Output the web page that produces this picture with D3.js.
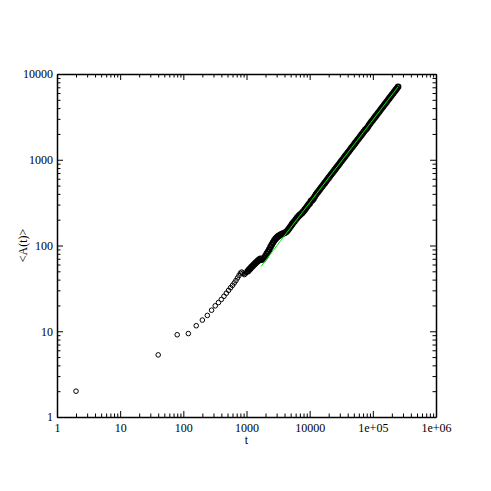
<!DOCTYPE html>
<html>
<head>
<meta charset="utf-8">
<script src="https://cdn.jsdelivr.net/npm/d3@7"></script>
<style>
    body { margin: 0; background: #fff; }
</style>
</head>
<body>
<div id="chart"></div>
<script>
// early samples, every 40 steps (plus t = 2)
const earlyT = [2, 40, 80, 120, 160, 200, 240, 280, 320, 360, 400, 440, 480, 520, 560,
    600, 640, 680, 720, 760, 800, 840, 880, 920, 960, 1000];
const earlyA = [2.0, 5.3, 9.1, 9.4, 11.6, 13.5, 15.3, 17.6, 19.8, 21.6, 23.5, 25.6, 27.8, 30.0, 32.2,
    34.3, 36.6, 39.0, 41.8, 44.6, 47.5, 49.0, 47.6, 45.8, 46.8, 48.5];

// late samples, read along the dense band
const lateT = [1047, 1096, 1148, 1202, 1259, 1318, 1380, 1445, 1514, 1585, 1660, 1738, 1820, 1905, 1995,
    2089, 2188, 2291, 2399, 2512, 2630, 2754, 2884, 3020, 3162, 3311, 3467, 3631, 3802, 3981,
    4169, 4365, 4571, 4786, 5012, 5248, 5495, 5754, 6026, 6310, 6607, 6918, 7244, 7586, 7943,
    8318, 8710, 9120, 9550, 10000,
    10471, 10965, 11482, 12023, 12589, 13183, 13804, 14454, 15136, 15849, 16596, 17378, 18197, 19055, 19953,
    20893, 21878, 22909, 23988, 25119, 26303, 27542, 28840, 30200, 31623, 33113, 34674, 36308, 38019, 39811,
    41687, 43652, 45709, 47863, 50119, 52481, 54954, 57544, 60256, 63096, 66069, 69183, 72444, 75858, 79433,
    83176, 87096, 91201, 95499, 100000,
    104713, 109648, 114815, 120226, 125893, 131826, 138038, 144544, 151356, 158489, 165959, 173780, 181970, 190546, 199526,
    208930, 218776, 229087, 239883, 251189];
const lateA = [50.1, 52.0, 54.0, 56.0, 57.9, 60.0, 62.1, 64.1, 66.1, 68.1, 70.0, 68.4, 69.2, 71.9, 75.5,
    80.0, 84.7, 89.9, 95.9, 102.1, 108.1, 114.0, 119.4, 123.9, 127.6, 130.9, 133.7, 136.1, 138.0, 140.0,
    142.9, 146.9, 152.8, 160.0, 167.9, 176.2, 184.1, 191.9, 200.9, 209.9, 218.3, 225.9, 232.8, 239.9, 249.5,
    260.0, 272.3, 285.1, 297.9, 309.7,
    329, 338, 352, 372, 393, 411, 430, 450, 470, 491, 514, 537, 562, 587, 614,
    642, 671, 701, 733, 767, 802, 838, 876, 916, 958, 1001, 1046, 1094, 1144, 1196,
    1250, 1307, 1367, 1429, 1494, 1562, 1633, 1707, 1784, 1866, 1950, 2039, 2132, 2229, 2300,
    2410, 2547, 2663, 2784, 2911,
    3043, 3182, 3327, 3478, 3636, 3801, 3974, 4155, 4344, 4541, 4748, 4963, 5190, 5426, 5672,
    5930, 6199, 6482, 6776, 7084];

// fitted power law (green line)
const fitT = [1700, 251189];
const fitA = [57, 7084];

const xTicks = [1, 10, 100, 1000, 10000, 1e5, 1e6];
const xTickLabels = ["1", "10", "100", "1000", "10000", "1e+05", "1e+06"];
const yTicks = [1, 10, 100, 1000, 10000];
const yTickLabels = ["1", "10", "100", "1000", "10000"];

const cfg = {
    width: 491,
    height: 491,
    left: 57, right: 436, top: 74, bottom: 417,
    font: "'Liberation Serif', 'Times New Roman', serif",
    major: 6,
    minor: 3.5
};

const x = d3.scaleLog().domain([1, 1e6]).range([cfg.left, cfg.right]);
const y = d3.scaleLog().domain([1, 1e4]).range([cfg.bottom, cfg.top]);

// minor ticks 2..9 in each decade
const minorOf = (majors) => {
    const out = [];
    majors.slice(0, -1).forEach((m) => {
        for (let k = 2; k < 10; k++) out.push(m * k);
    });
    return out;
};
const xMinor = minorOf(xTicks);
const yMinor = minorOf(yTicks);

const svg = d3.select("#chart")
    .append("svg")
    .attr("width", cfg.width)
    .attr("height", cfg.height);

/////////// axes: ticks on all four sides, pointing inward ///////////

const axisSpec = [
    { axis: d3.axisBottom, scale: x, pos: "translate(0," + cfg.bottom + ")", major: xTicks, minor: xMinor, labels: xTickLabels, pad: 6 },
    { axis: d3.axisTop, scale: x, pos: "translate(0," + cfg.top + ")", major: xTicks, minor: xMinor, labels: null },
    { axis: d3.axisLeft, scale: y, pos: "translate(" + cfg.left + ",0)", major: yTicks, minor: yMinor, labels: yTickLabels, pad: 4 },
    { axis: d3.axisRight, scale: y, pos: "translate(" + cfg.right + ",0)", major: yTicks, minor: yMinor, labels: null }
];

axisSpec.forEach((s) => {
    // minor ticks
    svg.append("g")
        .attr("transform", s.pos)
        .call(s.axis(s.scale).tickValues(s.minor).tickSizeInner(-cfg.minor).tickSizeOuter(0).tickFormat(""))
        .call((g) => g.select(".domain").remove())
        .selectAll("line").attr("stroke", "#000").attr("stroke-width", 1);

    // major ticks + labels
    const g = svg.append("g")
        .attr("transform", s.pos)
        .call(s.axis(s.scale)
            .tickValues(s.major)
            .tickSizeInner(-cfg.major)
            .tickSizeOuter(0)
            .tickPadding(s.pad || 3)
            .tickFormat((d, i) => s.labels ? s.labels[i] : ""));

    g.attr("font-family", cfg.font).attr("font-size", 12);
    g.select(".domain").attr("stroke", "#000").attr("stroke-width", 1.5);
    g.selectAll("line").attr("stroke", "#000").attr("stroke-width", 1);
    g.selectAll("text").attr("fill", "#000");
});

// axis titles
svg.append("text")
    .attr("x", (cfg.left + cfg.right) / 2)
    .attr("y", 444)
    .attr("text-anchor", "middle")
    .attr("font-family", cfg.font)
    .attr("font-size", 12)
    .text("t");

svg.append("text")
    .attr("transform", "translate(27," + ((cfg.top + cfg.bottom) / 2) + ") rotate(-90)")
    .attr("text-anchor", "middle")
    .attr("font-family", cfg.font)
    .attr("font-size", 12)
    .text("<A(t)>");

/////////// data ///////////

const drawCircles = (ts, as, r, sw) => {
    svg.append("g")
        .selectAll("circle")
        .data(ts.map((t, i) => ({ t: t, a: as[i] })))
        .enter()
        .append("circle")
        .attr("cx", (d) => x(d.t))
        .attr("cy", (d) => y(d.a))
        .attr("r", r)
        .attr("fill", "none")
        .attr("stroke", "#000")
        .attr("stroke-width", sw);
};

// sparse part: thin rings; dense part overlaps into a solid band
drawCircles(earlyT, earlyA, 2.3, 1);
drawCircles(lateT, lateA, 2.4, 1.8);

svg.append("path")
    .datum(fitT.map((t, i) => ({ t: t, a: fitA[i] })))
    .attr("fill", "none")
    .attr("stroke", "#00ee00")
    .attr("stroke-width", 1)
    .attr("d", d3.line().x((d) => x(d.t)).y((d) => y(d.a)));
</script>
</body>
</html>
